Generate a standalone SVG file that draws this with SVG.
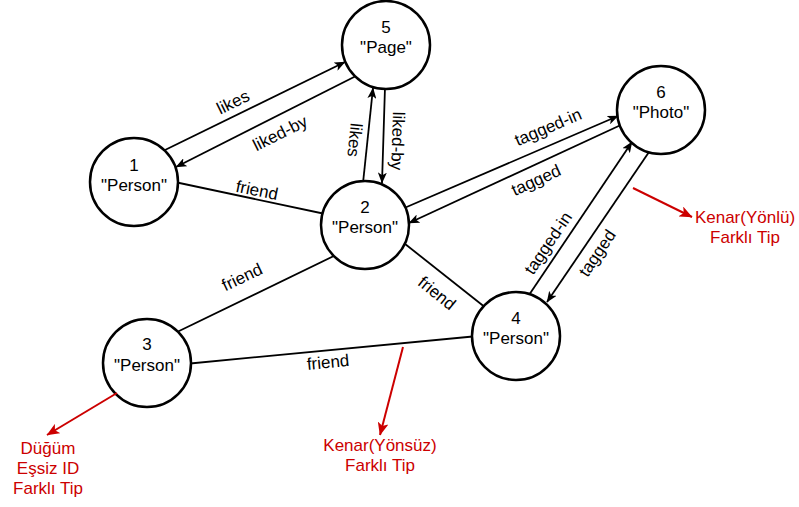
<svg xmlns="http://www.w3.org/2000/svg" width="799" height="507" viewBox="0 0 799 507">
<style>
.node circle{fill:#fff;stroke:#000;stroke-width:2.5}
.node text,.lbl{font-family:"Liberation Sans",Arial,Helvetica,sans-serif;font-size:17px;fill:#000;text-anchor:middle}
.e{stroke:#000;stroke-width:1.8;fill:none}
.ea{stroke:#000;stroke-width:1.8;fill:none;marker-end:url(#arr)}
.r{stroke:#cc0000;stroke-width:2;fill:none;marker-end:url(#rarr)}
.rt{font-family:"Liberation Sans",Arial,Helvetica,sans-serif;font-size:17px;fill:#cc0000;text-anchor:middle}
</style>
<defs>
<marker id="arr" viewBox="0 0 11 9" refX="10.5" refY="4.5" markerWidth="11" markerHeight="9" orient="auto" markerUnits="userSpaceOnUse">
<path d="M0,0 L11,4.5 L0,9 L2.8,4.5 Z" fill="#000"/>
</marker>
<marker id="rarr" viewBox="0 0 13 11" refX="12.5" refY="5.5" markerWidth="13" markerHeight="11" orient="auto" markerUnits="userSpaceOnUse">
<path d="M0,0 L13,5.5 L0,11 L3.3,5.5 Z" fill="#cc0000"/>
</marker>
</defs>
<rect width="799" height="507" fill="#fff"/>
<g id="connectors">
<line class="ea" x1="165" y1="150" x2="345" y2="62"/>
<line class="ea" x1="356" y1="76" x2="176" y2="167"/>
<line class="ea" x1="363" y1="183" x2="373" y2="88"/>
<line class="ea" x1="385" y1="87" x2="382" y2="183"/>
<line class="e" x1="170" y1="181" x2="330" y2="215"/>
<line class="ea" x1="402" y1="209" x2="618" y2="116"/>
<line class="ea" x1="623" y1="124" x2="409" y2="223"/>
<line class="ea" x1="529" y1="295" x2="632" y2="142"/>
<line class="ea" x1="649" y1="152" x2="547" y2="302"/>
<line class="e" x1="395" y1="236" x2="486" y2="308"/>
<line class="e" x1="175" y1="333" x2="338" y2="254"/>
<line class="e" x1="185" y1="364" x2="478" y2="336"/>
<text class="lbl" transform="translate(233,102) rotate(-26)" dy="0.35em">likes</text>
<text class="lbl" transform="translate(280,133) rotate(-26.5)" dy="0.35em">liked-by</text>
<text class="lbl" transform="translate(355,140) rotate(96)" dy="0.35em">likes</text>
<text class="lbl" transform="translate(398,141) rotate(92)" dy="0.35em">liked-by</text>
<text class="lbl" transform="translate(257,190) rotate(11.3)" dy="0.35em">friend</text>
<text class="lbl" transform="translate(548,127) rotate(-23)" dy="0.35em">tagged-in</text>
<text class="lbl" transform="translate(536,180) rotate(-24.5)" dy="0.35em">tagged</text>
<text class="lbl" transform="translate(548,243) rotate(-56)" dy="0.35em">tagged-in</text>
<text class="lbl" transform="translate(597,253) rotate(-56)" dy="0.35em">tagged</text>
<text class="lbl" transform="translate(437,293) rotate(39)" dy="0.35em">friend</text>
<text class="lbl" transform="translate(242,277) rotate(-25.5)" dy="0.35em">friend</text>
<text class="lbl" transform="translate(328,362) rotate(-5.5)" dy="0.35em">friend</text>
</g>
<g id="node1" class="node"><circle cx="134" cy="182" r="44"/><text x="134" y="171">1</text><text x="134" y="191">"Person"</text></g>
<g id="node2" class="node"><circle cx="365" cy="225" r="44"/><text x="365" y="213">2</text><text x="365" y="233">"Person"</text></g>
<g id="node3" class="node"><circle cx="147" cy="363" r="44"/><text x="147" y="350">3</text><text x="147" y="371">"Person"</text></g>
<g id="node4" class="node"><circle cx="516" cy="336" r="44"/><text x="516" y="324">4</text><text x="516" y="344">"Person"</text></g>
<g id="node5" class="node"><circle cx="386" cy="45" r="44"/><text x="386" y="33">5</text><text x="386" y="53">"Page"</text></g>
<g id="node6" class="node"><circle cx="661" cy="110" r="44"/><text x="661" y="98">6</text><text x="661" y="118">"Photo"</text></g>
<g id="annotations">
<line class="r" x1="117" y1="393" x2="47" y2="435"/>
<line class="r" x1="403" y1="347" x2="380" y2="435"/>
<line class="r" x1="633" y1="188" x2="692" y2="217"/>
<text class="rt" x="48" y="454">Düğüm</text>
<text class="rt" x="48" y="474">Eşsiz ID</text>
<text class="rt" x="48" y="494">Farklı Tip</text>
<text class="rt" x="380" y="451">Kenar(Yönsüz)</text>
<text class="rt" x="380" y="471">Farklı Tip</text>
<text class="rt" x="745" y="223">Kenar(Yönlü)</text>
<text class="rt" x="745" y="243">Farklı Tip</text>
</g>
</svg>
